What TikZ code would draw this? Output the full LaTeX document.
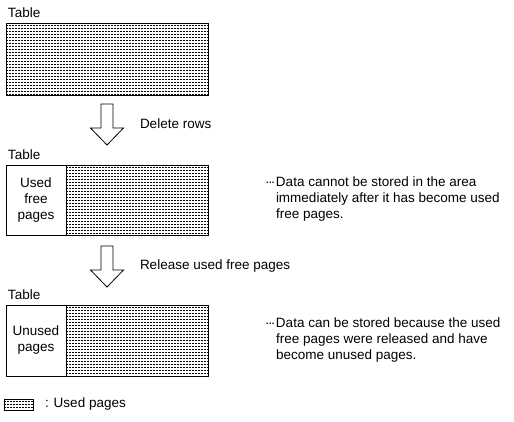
\documentclass[tikz,border=0pt]{standalone}
\usepackage{fontspec}
\setmainfont{Liberation Sans}
\usetikzlibrary{positioning}
\newcommand{\dotlead}{·\kern-1.6pt·\kern-1.6pt·\kern0.6pt}

\begin{document}
\begin{tikzpicture}[x=1pt,y=-1pt,
  every node/.style={font=\fontsize{13.5}{16}\selectfont, inner sep=0pt, outer sep=0pt},
  rowdash/.style={line width=0.55pt, dash pattern=on 2pt off 1pt},
  usedpages/.style={draw, line width=0.9pt, path picture={
    \foreach \k in {1,...,26}
      \draw[rowdash] ([yshift=-\k*3pt+1pt]path picture bounding box.north west)
        -- ([yshift=-\k*3pt+1pt]path picture bounding box.north east);}},
  freebox/.style={draw, line width=0.9pt, align=center},
  blockarrow/.style={draw, line width=0.8pt, line join=miter},
  note/.style={align=left, anchor=west}]
  \useasboundingbox (0,0) rectangle (514,421);

  % table before deleting
  \node[usedpages, minimum width=202pt, minimum height=72pt] (tab1) at (107,59) {};
  \node[above right=5pt and 2pt of tab1.north west] (lbl1) {Table};

  \coordinate[below=9pt of tab1.south] (arr1);
  \draw[blockarrow] (arr1) ++(-6,0) -- ++(0,24) -- ++(-10.5,0) -- ++(16.5,17)
    -- ++(16.5,-17) -- ++(-10.5,0) -- ++(0,-24) -- cycle;
  \node[anchor=west] (step1) at ([shift={(33,20)}]arr1) {Delete rows};

  % table after deleting
  \node[freebox, minimum width=60pt, minimum height=70pt] (used2) at (36,200) {Used\\free\\pages};
  \node[usedpages, minimum width=142pt, minimum height=70pt, right=0pt of used2] (rest2) {};
  \node[above right=5pt and 2pt of used2.north west] (lbl2) {Table};
  \node[note] (note1) at (276,199)
    {\llap{\dotlead}Data cannot be stored in the area\\immediately after it has become used\\free pages.};

  \coordinate (arr2) at ([yshift=-11pt]tab1.south |- rest2.south);
  \draw[blockarrow] (arr2) ++(-6,0) -- ++(0,24) -- ++(-10.5,0) -- ++(16.5,17)
    -- ++(16.5,-17) -- ++(-10.5,0) -- ++(0,-24) -- cycle;
  \node[anchor=west] (step2) at ([shift={(33,20)}]arr2) {Release used free pages};

  % table after release
  \node[freebox, minimum width=60pt, minimum height=71pt] (used3) at (36,340.5) {Unused\\pages};
  \node[usedpages, minimum width=142pt, minimum height=71pt, right=0pt of used3] (rest3) {};
  \node[above right=5pt and 2pt of used3.north west] (lbl3) {Table};
  \node[note] (note2) at (276,340)
    {\llap{\dotlead}Data can be stored because the used\\free pages were released and have\\become unused pages.};

  % legend
  \node[usedpages, minimum width=29pt, minimum height=11pt] (key) at (18.5,404.5) {};
  \node[right=12pt of key] (keytxt) {: Used pages};
\end{tikzpicture}
\end{document}
